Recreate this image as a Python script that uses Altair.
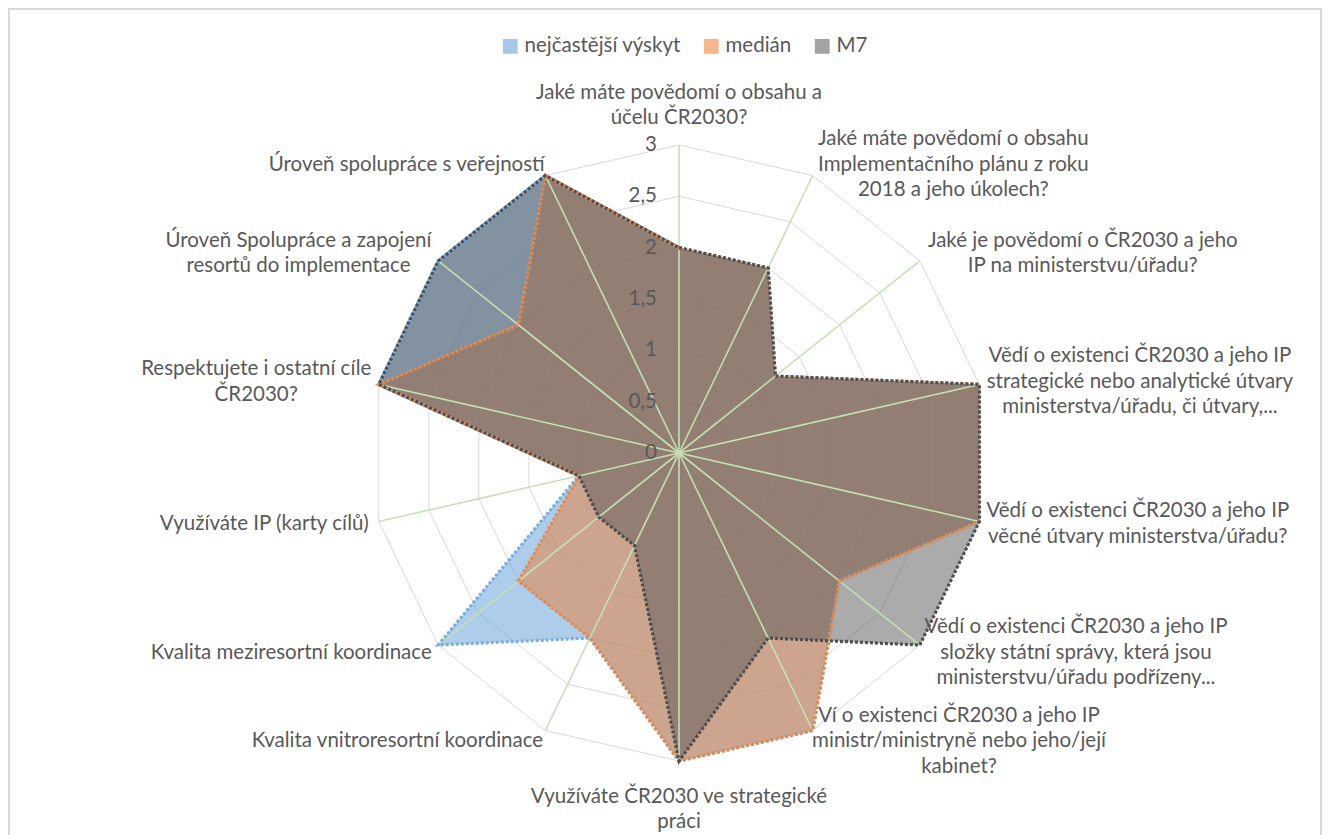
import math
import altair as alt
import pandas as pd

# ---------------- data ----------------
categories = [
    "Jaké máte povědomí o obsahu a\núčelu ČR2030?",
    "Jaké máte povědomí o obsahu\nImplementačního plánu z roku\n2018 a jeho úkolech?",
    "Jaké je povědomí o ČR2030 a jeho\nIP na ministerstvu/úřadu?",
    "Vědí o existenci ČR2030 a jeho IP\nstrategické nebo analytické útvary\nministerstva/úřadu, či útvary,...",
    "Vědí o existenci ČR2030 a jeho IP\nvěcné útvary ministerstva/úřadu?",
    "Vědí o existenci ČR2030 a jeho IP\nsložky státní správy, která jsou\nministerstvu/úřadu podřízeny...",
    "Ví o existenci ČR2030 a jeho IP\nministr/ministryně nebo jeho/její\nkabinet?",
    "Využíváte ČR2030 ve strategické\npráci",
    "Kvalita vnitroresortní koordinace",
    "Kvalita meziresortní koordinace",
    "Využíváte IP (karty cílů)",
    "Respektujete i ostatní cíle\nČR2030?",
    "Úroveň Spolupráce a zapojení\nresortů do implementace",
    "Úroveň spolupráce s veřejností",
]
series_names = ["nejčastější výskyt", "medián", "M7"]
nejcastejsi = [2, 2, 1.2, 3, 3, 2, 3, 3, 2, 3, 1, 3, 3, 3]
median_vals = [2, 2, 1.2, 3, 3, 2, 3, 3, 2, 2, 1, 3, 2, 3]
m7_vals = [2, 2, 1.2, 3, 3, 3, 2, 3, 1, 1, 1, 3, 3, 3]
tick_values = [0, 0.5, 1, 1.5, 2, 2.5, 3]
tick_labels = ["0", "0,5", "1", "1,5", "2", "2,5", "3"]

# ---------------- layout / style ----------------
W, H = 1314, 827
CX, CY = 671, 445          # centre of the radar in view pixels
RMAX = 3
K = 308 / RMAX             # pixels per unit
N = len(categories)
FONT = "Lato"
FS = 20.5
TXT = "#595959"
fill_colors = ["#5B9BD5", "#ED7D31", "#575757"]
line_colors = ["#7aaee2", "#e38a50", "#4f4f4f"]

xscale = alt.Scale(domain=[-CX / K, (W - CX) / K], nice=False, zero=False)
yscale = alt.Scale(domain=[-(H - CY) / K, CY / K], nice=False, zero=False)
X = alt.X("x:Q", scale=xscale, axis=None)
Y = alt.Y("y:Q", scale=yscale, axis=None)

# long table for the series
rows = []
for s, vals in zip(series_names, [nejcastejsi, median_vals, m7_vals]):
    for i, v in enumerate(vals):
        rows.append({"series": s, "idx": i, "value": v})
df = pd.DataFrame(rows)


def to_xy(chart):
    return chart.transform_calculate(ang=f"2*PI*datum.idx/{N}").transform_calculate(
        x="datum.value*sin(datum.ang)", y="datum.value*cos(datum.ang)"
    )


# grid rings
ring_rows = [{"ring": r, "idx": i, "value": r} for r in tick_values[1:] for i in range(N)]
rings = to_xy(
    alt.Chart(pd.DataFrame(ring_rows)).mark_line(
        interpolate="linear-closed", color="#d9d9d9", strokeWidth=1
    )
).encode(x=X, y=Y, detail="ring:N", order="idx:Q")

# spokes
spoke_rows = [{"idx": i, "value": v} for i in range(N) for v in (0, RMAX)]
spokes = to_xy(
    alt.Chart(pd.DataFrame(spoke_rows)).mark_line(color="#c5e0b4", strokeWidth=1.6)
).encode(x=X, y=Y, detail="idx:N", order="value:Q")

fill_scale = alt.Scale(domain=series_names, range=fill_colors)
line_scale = alt.Scale(domain=series_names, range=line_colors)

fills = to_xy(
    alt.Chart(df).mark_line(
        interpolate="linear-closed", strokeOpacity=0, fillOpacity=0.5, strokeWidth=0
    )
).encode(
    x=X,
    y=Y,
    fill=alt.Fill(
        "series:N",
        scale=fill_scale,
        sort=series_names,
        legend=alt.Legend(
            title=None,
            orient="none",
            legendX=492,
            legendY=28,
            direction="horizontal",
            symbolType="square",
            symbolSize=220,
            symbolOpacity=0.55,
            symbolStrokeWidth=0,
            labelFont=FONT,
            labelFontSize=FS,
            labelColor=TXT,
            columnPadding=20,
            labelOffset=4,
        ),
    ),
    detail="series:N",
    order="idx:Q",
)

lines = to_xy(
    alt.Chart(df).mark_line(
        interpolate="linear-closed", strokeWidth=3.2, strokeDash=[3, 2], strokeCap="butt"
    )
).encode(
    x=X,
    y=Y,
    stroke=alt.Stroke("series:N", scale=line_scale, legend=None),
    detail="series:N",
    order="idx:Q",
)

# value labels along the vertical axis
ticks_df = pd.DataFrame({"value": tick_values, "label": tick_labels})
ticks = alt.Chart(ticks_df).mark_text(
    align="right", baseline="middle", dx=-22, font=FONT, fontSize=FS, color=TXT
).transform_calculate(x="0", y="datum.value").encode(x=X, y=Y, text="label:N")

# category labels placed outside the radar
W_NARROW = set("iíjlI,.:;!|'")
W_SEMI = set("ftrř()/-")
W_S = set("sšcčzž?")
W_A = set("aáeéěkvyýx")
W_N = set("nňoóuúůdpbqhg")


def text_width(s):
    w = 0.0
    for ch in s:
        if ch == " ":
            w += 0.193
        elif ch in W_NARROW:
            w += 0.23
        elif ch in W_SEMI:
            w += 0.33
        elif ch in W_S:
            w += 0.43
        elif ch in W_A:
            w += 0.51
        elif ch in W_N:
            w += 0.56
        elif ch == "m":
            w += 0.84
        elif ch == "w":
            w += 0.74
        elif ch.isdigit():
            w += 0.58
        elif ch == "M":
            w += 0.86
        else:
            w += 0.66
    return w * FS


GAP = 12
LH = 25.5
lab_rows = []
for i, c in enumerate(categories):
    a = 2 * math.pi * i / N
    sx, cy_ = math.sin(a), math.cos(a)
    r = RMAX + GAP / K
    bx, by = r * sx, r * cy_
    lines_ = c.split("\n")
    n = len(lines_)
    wmax = max(text_width(t) for t in lines_)
    h = LH * n
    if abs(sx) < 1e-6:
        if cy_ > 0:
            by += (h / 2 + 2) / K
        else:
            by -= (h / 2 + 11) / K
    else:
        bx += (1 if sx > 0 else -1) * (wmax / 2) / K
    # first line position so that the block is centred on (bx, by)
    by += (n - 1) * LH / 2 / K
    lab_rows.append({"x": bx, "y": by, "label": c})

labels = alt.Chart(pd.DataFrame(lab_rows)).mark_text(
    align="center", baseline="middle", lineBreak="\n", lineHeight=LH,
    font=FONT, fontSize=FS, color=TXT
).encode(x=X, y=Y, text="label:N")

# chart-area border (left, top, right)
border_l = alt.Chart(pd.DataFrame({"a": [0]})).mark_rule(color="#d9d9d9", strokeWidth=2).encode(
    x=alt.value(1), y=alt.value(1), y2=alt.value(H + 20)
)
border_t = alt.Chart(pd.DataFrame({"a": [0]})).mark_rule(color="#d9d9d9", strokeWidth=2).encode(
    x=alt.value(0), x2=alt.value(W), y=alt.value(1)
)
border_r = alt.Chart(pd.DataFrame({"a": [0]})).mark_rule(color="#d9d9d9", strokeWidth=2).encode(
    x=alt.value(W - 1), y=alt.value(1), y2=alt.value(H + 20)
)

chart = (
    alt.layer(rings, fills, spokes, lines, ticks, labels, border_l, border_t, border_r)
    .resolve_scale(fill="independent", stroke="independent")
    .properties(width=W, height=H, autosize=alt.AutoSizeParams(type="none"), padding=0)
    .configure_view(strokeWidth=0)
    .configure(font=FONT)
)

chart.save("out.html", embed_options={"renderer": "svg", "actions": False})
